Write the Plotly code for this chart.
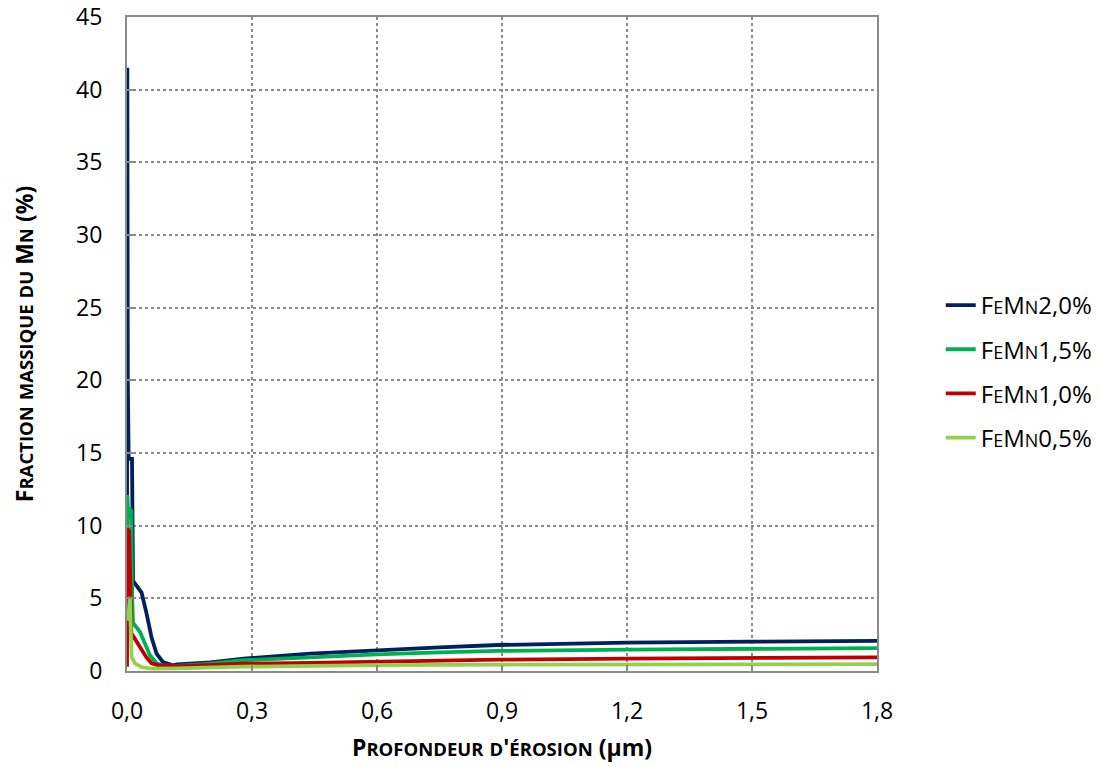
import plotly.graph_objects as go

# Depth (µm) and Mn mass fraction (%)
depth_20 = [0.0, 0.0008, 0.002, 0.004, 0.012, 0.0145, 0.02, 0.035, 0.047, 0.059, 0.071, 0.086, 0.11,
            0.12, 0.2, 0.28, 0.44, 0.6, 0.75, 0.89, 1.05, 1.2, 1.5, 1.8]
mn_20 = [5.0, 41.5, 20.0, 14.6, 14.6, 6.2, 6.0, 5.4, 3.95, 2.3, 1.2, 0.62, 0.39,
         0.45, 0.6, 0.85, 1.2, 1.45, 1.62, 1.79, 1.88, 1.95, 2.02, 2.07]

depth_15 = [0.0, 0.001, 0.003, 0.006, 0.01, 0.0125, 0.0145, 0.031, 0.043, 0.055, 0.071, 0.086,
            0.12, 0.2, 0.28, 0.44, 0.6, 0.75, 0.89, 1.2, 1.5, 1.8]
mn_15 = [3.0, 12.1, 10.5, 11.2, 11.0, 5.0, 3.3, 2.7, 1.9, 1.08, 0.53, 0.39,
         0.35, 0.5, 0.74, 0.96, 1.15, 1.28, 1.38, 1.47, 1.54, 1.58]

depth_10 = [0.0, 0.0015, 0.005, 0.0105, 0.017, 0.031, 0.047, 0.059, 0.074,
            0.12, 0.2, 0.28, 0.44, 0.6, 0.75, 0.89, 1.2, 1.5, 1.8]
mn_10 = [0.3, 9.8, 9.6, 2.6, 2.3, 1.7, 0.92, 0.53, 0.41,
         0.33, 0.4, 0.5, 0.56, 0.65, 0.72, 0.78, 0.85, 0.89, 0.94]

depth_05 = [0.0, 0.003, 0.007, 0.011, 0.019, 0.035, 0.059, 0.12, 0.28, 0.44, 0.6, 0.89, 1.8]
mn_05 = [3.5, 3.6, 5.1, 0.96, 0.53, 0.26, 0.16, 0.18, 0.3, 0.36, 0.4, 0.44, 0.47]

names = ["FeMn2,0%", "FeMn1,5%", "FeMn1,0%", "FeMn0,5%"]
colors = ["#002060", "#00B050", "#C00000", "#92D050"]
series = [(depth_20, mn_20), (depth_15, mn_15), (depth_10, mn_10), (depth_05, mn_05)]

x_title = "Profondeur d'érosion"
x_unit = "(µm)"
y_title = "Fraction massique du Mn (%)"

FONT = "Open Sans"


def small_caps(text, small_px):
    """Render lowercase letters as reduced-size capitals."""
    out, run = [], ""
    for ch in text:
        if ch.isalpha() and ch.islower():
            run += ch.upper()
        else:
            if run:
                out.append(f'<span style="font-size:{small_px}px">{run}</span>')
                run = ""
            out.append(ch)
    if run:
        out.append(f'<span style="font-size:{small_px}px">{run}</span>')
    return "".join(out)


fig = go.Figure()
for (x, y), name, color in zip(series, names, colors):
    fig.add_trace(go.Scatter(x=x, y=y, mode="lines", name=small_caps(name, 18),
                             legendgroup=name, line=dict(color=color, width=3.8)))

axis_common = dict(
    showline=True, linecolor="#8a8a8a", linewidth=2, mirror=True,
    showgrid=True, gridcolor="#8a8a8a", gridwidth=1.5, griddash="dot",
    ticks="inside", ticklen=6, tickcolor="#8a8a8a", tickwidth=1.5,
    tickfont=dict(family=FONT, size=23, color="#000000"),
    zeroline=False, ticklabelstandoff=18, automargin=False,
    ticklabeloverflow="allow",
)

fig.update_layout(
    width=1099, height=767,
    margin=dict(l=119, r=230, t=9, b=104, autoexpand=False),
    paper_bgcolor="white", plot_bgcolor="white",
    separators=", ",
    font=dict(family=FONT, color="#000000"),
    xaxis=dict(range=[0, 1.8], dtick=0.3, tick0=0, tickformat=".1f",
               title=dict(text=small_caps(x_title, 18.5) + " " + x_unit, standoff=15,
                          font=dict(family=FONT, size=23, weight="bold")),
               **axis_common),
    yaxis=dict(range=[0, 45], dtick=5, tick0=0,
               title=dict(text=small_caps(y_title, 18.5), standoff=46,
                          font=dict(family=FONT, size=23, weight="bold")),
               **axis_common),
    legend=dict(x=1.085, y=0.458, xanchor="left", yanchor="middle",
                font=dict(family=FONT, size=24),
                tracegroupgap=10, bgcolor="rgba(0,0,0,0)"),
)

fig.write_html("out.html")
